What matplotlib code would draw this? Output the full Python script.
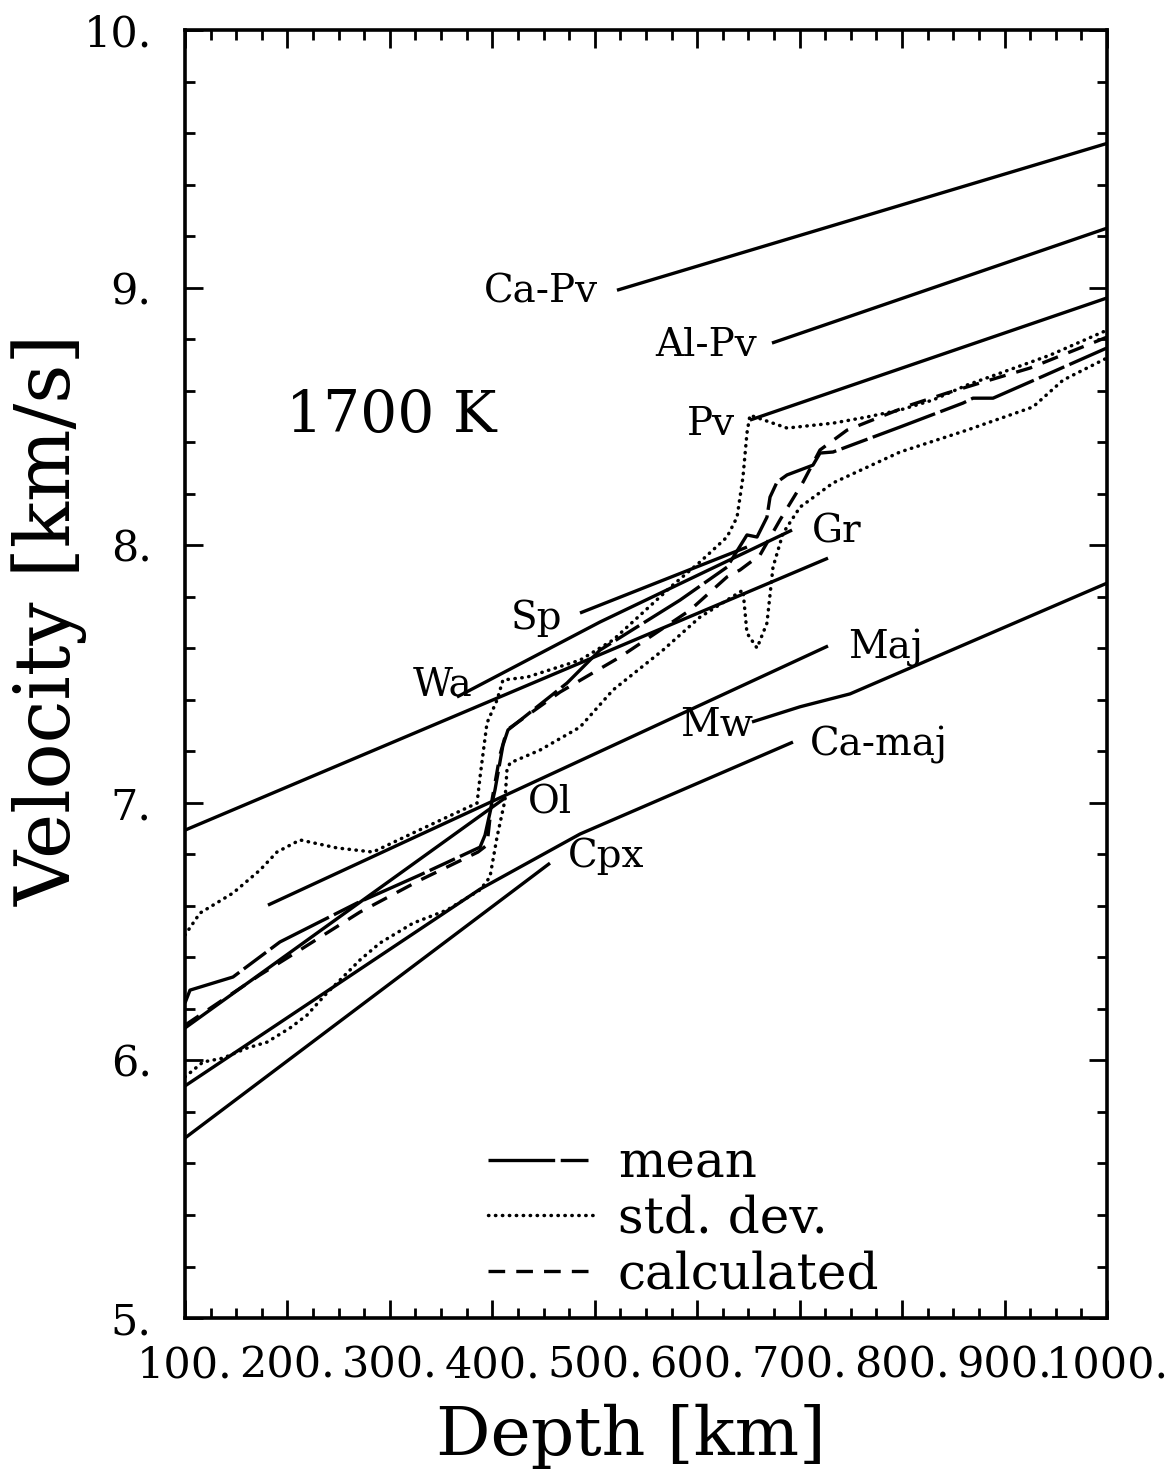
import numpy as np
import matplotlib
matplotlib.use('Agg')
import matplotlib.pyplot as plt
from matplotlib.ticker import MultipleLocator

plt.rcParams['font.family'] = 'DejaVu Serif'
plt.rcParams['lines.scale_dashes'] = False

# mineral lines: depth [km], velocity [km/s]
capv_d = [521.7, 1000.0]
capv_v = [8.99, 9.56]
alpv_d = [673.0, 1000.0]
alpv_v = [8.785, 9.231]
pv_d = [651.5, 1000.0]
pv_v = [8.486, 8.960]
gr_d = [100.0, 727.7]
gr_v = [6.894, 7.950]
wa_d = [365.5, 505.1, 692.6]
wa_v = [7.411, 7.702, 8.059]
sp_d = [485.6, 648.6]
sp_v = [7.737, 7.993]
maj_d = [181.0, 727.7]
maj_v = [6.603, 7.609]
ol_d = [100.0, 412.4]
ol_v = [6.126, 7.019]
cpx_d = [100.0, 456.3]
cpx_v = [5.699, 6.766]
camaj_d = [100.0, 388.0, 485.6, 693.5]
camaj_v = [5.901, 6.665, 6.879, 7.236]
mw_d = [653.5, 700.4, 749.2, 1000.0]
mw_v = [7.314, 7.373, 7.423, 7.853]

# mean of the inversions
mean_d = [100.0, 104.9, 146.9, 192.7, 267.9, 329.4, 388.0, 392.9, 402.6, 410.4,
          415.3, 472.9, 505.1, 583.2, 629.1, 648.6, 658.4, 668.1, 671.1, 677.9,
          687.7, 713.0, 719.9, 732.6, 798.0, 859.5, 869.2, 888.8, 924.9, 1000.0]
mean_v = [6.223, 6.273, 6.324, 6.460, 6.611, 6.720, 6.828, 6.875, 7.050, 7.224,
          7.283, 7.465, 7.593, 7.787, 7.915, 8.040, 8.032, 8.109, 8.187, 8.245,
          8.273, 8.311, 8.358, 8.362, 8.459, 8.552, 8.571, 8.571, 8.634, 8.766]

# std. dev. envelopes
sdu_d = [100.0, 114.6, 146.9, 173.2, 189.8, 212.3, 248.4, 283.5, 322.6, 385.1,
         388.0, 394.8, 404.6, 410.4, 433.9, 485.6, 517.8, 576.4, 602.7, 629.1,
         638.9, 644.7, 648.6, 651.5, 687.7, 732.6, 765.8, 798.0, 830.2, 863.4,
         895.6, 944.4, 1000.0]
sdu_v = [6.487, 6.572, 6.650, 6.739, 6.809, 6.856, 6.825, 6.809, 6.883, 6.999,
         7.100, 7.310, 7.399, 7.477, 7.488, 7.554, 7.632, 7.846, 7.935, 8.032,
         8.109, 8.265, 8.436, 8.505, 8.455, 8.474, 8.498, 8.525, 8.564, 8.622,
         8.668, 8.738, 8.835]
sdl_d = [100.0, 117.6, 137.1, 160.5, 180.0, 202.5, 219.1, 238.6, 251.3, 270.8,
         290.4, 322.6, 355.8, 388.0, 397.7, 404.6, 412.4, 414.3, 417.3, 446.6,
         485.6, 517.8, 566.6, 602.7, 644.7, 648.6, 658.4, 668.1, 674.0, 683.8,
         700.4, 732.6, 798.0, 863.4, 927.8, 957.1, 1000.0]
sdl_v = [5.936, 5.994, 6.009, 6.048, 6.071, 6.126, 6.176, 6.262, 6.312, 6.390,
         6.456, 6.533, 6.584, 6.662, 6.712, 6.867, 7.011, 7.127, 7.155, 7.205,
         7.294, 7.438, 7.593, 7.721, 7.826, 7.659, 7.601, 7.698, 7.915, 8.047,
         8.148, 8.242, 8.362, 8.447, 8.537, 8.641, 8.727]

# calculated model
calc_d = [100.0, 173.2, 212.3, 270.8, 329.4, 386.0, 394.8, 399.7, 407.5, 414.3,
          466.1, 524.6, 593.0, 629.1, 641.8, 661.3, 680.8, 703.3, 719.9, 746.3,
          778.5, 807.8, 843.9, 876.1, 924.9, 1000.0]
calc_v = [6.137, 6.332, 6.429, 6.576, 6.700, 6.809, 6.836, 7.011, 7.186, 7.283,
          7.430, 7.566, 7.748, 7.877, 7.904, 7.962, 8.098, 8.245, 8.370, 8.447,
          8.498, 8.544, 8.591, 8.630, 8.688, 8.808]

xticks = [100, 200, 300, 400, 500, 600, 700, 800, 900, 1000]
xlabels = ['100.', '200.', '300.', '400.', '500.', '600.', '700.', '800.', '900.', '1000.']
yticks = [5, 6, 7, 8, 9, 10]
ylabels = ['5.', '6.', '7.', '8.', '9.', '10.']

fig = plt.figure(figsize=(11.73, 14.74), dpi=100)
ax = fig.add_axes([0.1577, 0.1058, 0.7860, 0.8738])

lw = 2.4
for d, v in [(capv_d, capv_v), (alpv_d, alpv_v), (pv_d, pv_v), (gr_d, gr_v),
             (wa_d, wa_v), (sp_d, sp_v), (maj_d, maj_v), (ol_d, ol_v),
             (cpx_d, cpx_v), (camaj_d, camaj_v), (mw_d, mw_v)]:
    ax.plot(d, v, color='black', lw=lw, solid_capstyle='butt')

l_mean, = ax.plot(mean_d, mean_v, color='black', lw=lw,
                  linestyle=(0, (48, 4, 20, 4)), label='mean')
l_sd, = ax.plot(sdu_d, sdu_v, color='black', lw=2.5,
                linestyle=(0, (0.3, 4.7)), dash_capstyle='round', label='std. dev.')
ax.plot(sdl_d, sdl_v, color='black', lw=2.5,
        linestyle=(0, (0.3, 4.7)), dash_capstyle='round')
l_calc, = ax.plot(calc_d, calc_v, color='black', lw=lw,
                  linestyle=(0, (12, 8)), label='calculated')

# mineral labels
fs_lab = 28
ax.text(503.2, 8.983, 'Ca-Pv', fontsize=fs_lab, ha='right', va='center')
ax.text(658.4, 8.777, 'Al-Pv', fontsize=fs_lab, ha='right', va='center')
ax.text(636.9, 8.467, 'Pv', fontsize=fs_lab, ha='right', va='center')
ax.text(712.1, 8.051, 'Gr', fontsize=fs_lab, ha='left', va='center')
ax.text(468.0, 7.717, 'Sp', fontsize=fs_lab, ha='right', va='center')
ax.text(380.2, 7.457, 'Wa', fontsize=fs_lab, ha='right', va='center')
ax.text(747.2, 7.601, 'Maj', fontsize=fs_lab, ha='left', va='center')
ax.text(583.2, 7.302, 'Mw', fontsize=fs_lab, ha='left', va='center')
ax.text(710.1, 7.224, 'Ca-maj', fontsize=fs_lab, ha='left', va='center')
ax.text(434.8, 6.999, 'Ol', fontsize=fs_lab, ha='left', va='center')
ax.text(473.9, 6.793, 'Cpx', fontsize=fs_lab, ha='left', va='center')

ax.text(0.11, 0.70, '1700 K', fontsize=42, transform=ax.transAxes,
        ha='left', va='center')

ax.set_xlim(100, 1000)
ax.set_ylim(5, 10)
ax.set_xticks(xticks)
ax.set_xticklabels(xlabels)
ax.set_yticks(yticks)
ax.set_yticklabels(ylabels)
ax.xaxis.set_minor_locator(MultipleLocator(25))
ax.yaxis.set_minor_locator(MultipleLocator(0.2))
ax.tick_params(which='both', direction='in', top=True, right=True, width=2)
ax.tick_params(which='major', length=13)
ax.tick_params(which='minor', length=7)
ax.tick_params(axis='x', which='major', labelsize=31, pad=19)
ax.tick_params(axis='y', which='major', labelsize=31, pad=24)
for s in ax.spines.values():
    s.set_linewidth(2.6)

fig.text(50 / 1173, 1 - 620 / 1474, 'Velocity [km/s]', fontsize=55,
         rotation=90, ha='center', va='center')
fig.text(631 / 1173, 1 - 1436 / 1474, 'Depth [km]', fontsize=49,
         ha='center', va='center')

ax.legend(handles=[l_mean, l_sd, l_calc], loc='upper left',
          bbox_to_anchor=(0.3286, 0.139), frameon=False, fontsize=36,
          handlelength=2.1, handletextpad=0.5, labelspacing=0.12,
          borderpad=0, borderaxespad=0)

fig.savefig('out.png', dpi=100)
